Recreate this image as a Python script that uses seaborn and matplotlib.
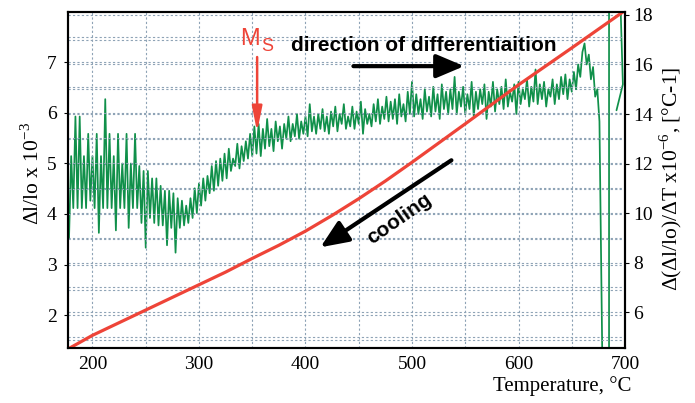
import matplotlib
matplotlib.use("Agg")
import matplotlib.pyplot as plt
from matplotlib.ticker import MultipleLocator
import seaborn as sns

# dilatation curve, left axis (dl/lo x 10^-3)
red_temp = [177, 200, 250, 300, 325, 350, 375, 400, 425, 450, 475, 500, 550, 600, 650, 700]
red_dl = [1.33, 1.60, 2.10, 2.60, 2.85, 3.12, 3.38, 3.66, 3.97, 4.30, 4.65, 5.02, 5.78, 6.55, 7.28, 8.02]

# differentiated curve, right axis (x 10^-6 1/C), sampled every 2 C from 178 to 676
green_temp = list(range(178, 678, 2))
green_val = [
    9.0, 12.3, 10.2, 13.9, 10.2, 13.9, 10.2, 12.3, 10.2, 13.2, 10.5, 12.3,
    10.2, 13.2, 9.2, 12.3, 10.2, 14.6, 10.2, 13.2, 10.2, 12.3,
    9.3, 13.2, 10.2, 12.0, 10.2, 13.2, 9.4, 12.0, 10.2, 13.2,
    10.2, 11.9, 9.6, 11.7, 8.6, 11.7, 9.8, 11.4, 9.6, 11.4,
    9.5, 11.1, 9.5, 10.9, 8.7, 10.9, 9.4, 10.8, 8.4, 10.6,
    9.4, 10.5, 9.5, 10.3, 9.6, 10.6, 9.8, 11.0, 10.0, 11.2,
    10.3, 11.4, 10.5, 11.5, 10.8, 11.9, 10.9, 12.1, 11.1, 12.2,
    11.3, 12.4, 11.4, 12.6, 11.7, 12.2, 11.9, 12.8, 11.8, 12.7,
    12.1, 12.9, 12.2, 13.2, 12.3, 13.5, 12.4, 13.6, 12.3, 13.4,
    12.6, 13.8, 12.7, 13.4, 12.5, 13.7, 12.9, 13.5, 12.6, 13.6,
    13.0, 13.9, 12.9, 13.6, 13.1, 14.0, 13.0, 13.7, 13.2, 13.9,
    13.1, 14.4, 13.3, 13.9, 13.2, 14.0, 13.4, 14.2, 13.3, 13.9,
    13.2, 14.1, 13.5, 14.3, 13.3, 14.0, 13.6, 14.4, 13.4, 13.9,
    13.5, 14.3, 13.4, 14.1, 13.6, 14.5, 13.2, 14.2, 13.6, 14.0,
    13.5, 14.4, 13.7, 14.6, 13.6, 14.3, 13.8, 14.7, 13.7, 14.5,
    13.8, 14.6, 13.6, 14.8, 13.9, 14.4, 13.7, 14.9, 14.0, 15.3,
    13.9, 14.8, 14.0, 14.6, 13.8, 15.0, 14.1, 14.7, 13.9, 15.1,
    14.1, 14.8, 13.8, 15.2, 14.2, 14.9, 14.0, 15.0, 14.2, 15.5,
    14.0, 14.9, 14.3, 15.1, 14.0, 14.8, 14.2, 15.3, 13.9, 14.9,
    14.2, 15.0, 14.4, 15.2, 13.8, 14.9, 14.3, 15.3, 14.1, 15.0,
    14.4, 15.1, 14.2, 15.4, 14.3, 14.9, 14.5, 15.2, 14.0, 15.3,
    14.4, 15.0, 14.6, 15.4, 14.3, 15.1, 14.5, 15.8, 14.4, 15.2,
    14.6, 15.3, 14.3, 15.0, 14.7, 15.4, 14.4, 15.2, 14.6, 15.5,
    14.8, 15.6, 14.6, 15.4, 14.9, 15.7, 15.0, 16.0, 15.5, 16.5,
    16.85, 16.0, 16.4, 15.4, 15.9, 14.7, 15.0, 13.7,
]
# end of run near 700 C (goes off scale, then back)
tail_temp = [679, 685, 685, 695, 698, 692]
tail_val = [3.0, 3.0, 19.5, 19.5, 15.2, 14.15]

red = "#ee4438"
green = "#10904a"
grid_col = "#8ea3b6"

sns.set_style("white")
plt.rcParams["font.family"] = ["Liberation Serif", "DejaVu Serif"]
plt.rcParams["mathtext.fontset"] = "custom"
plt.rcParams["mathtext.rm"] = "Liberation Serif"
for k in ("text.color", "axes.labelcolor", "xtick.color", "ytick.color"):
    plt.rcParams[k] = "black"

fig = plt.figure(figsize=(6.95, 4.03), dpi=100)
ax = fig.add_axes([0.0978, 0.1365, 0.8015, 0.8337])
ax2 = ax.twinx()
ax.set_zorder(ax2.get_zorder() + 1)
ax.patch.set_visible(False)

sns.lineplot(x=green_temp + tail_temp, y=green_val + tail_val, sort=False,
             estimator=None, color=green, lw=1.25, ax=ax2)
sns.lineplot(x=red_temp, y=red_dl, color=red, lw=2.3, ax=ax)

ax.set_xlim(177, 700)
ax.set_ylim(1.35, 7.99)
ax2.set_ylim(4.55, 18.12)

ax.xaxis.set_major_locator(MultipleLocator(100))
ax.xaxis.set_minor_locator(MultipleLocator(50))
ax.yaxis.set_major_locator(MultipleLocator(1))
ax.yaxis.set_minor_locator(MultipleLocator(0.5))
ax.set_yticks([2, 3, 4, 5, 6, 7])
ax2.yaxis.set_major_locator(MultipleLocator(2))
ax2.yaxis.set_minor_locator(MultipleLocator(1))
ax2.set_yticks([6, 8, 10, 12, 14, 16, 18])

gkw = dict(color=grid_col, lw=0.8, ls=(0, (2, 2)))
ax.grid(True, which="both", axis="both", **gkw)
ax2.grid(True, which="both", axis="y", **gkw)

ax.tick_params(axis="both", which="major", labelsize=14, length=3, color="black")
ax.tick_params(axis="y", pad=5)
ax.tick_params(axis="x", pad=3)
ax.tick_params(which="minor", length=0)
ax2.tick_params(axis="y", which="major", labelsize=14, length=3, pad=3, color="black")
ax2.tick_params(which="minor", length=0)

for a in (ax, ax2):
    for s in a.spines.values():
        s.set_color("black")
        s.set_linewidth(1.5)

ax.set_xlabel("Temperature, °C", fontsize=15, loc="right")
ax.xaxis.set_label_coords(1.012, -0.085)
ax.set_ylabel("Δl/lo x 10$^{-3}$", fontsize=15.5)
ax.yaxis.set_label_coords(-0.043, 0.52)
ax2.set_ylabel("Δ(Δl/lo)/ΔT x10$^{-6}$, [°C-1]", fontsize=15.5)
ax2.yaxis.set_label_coords(1.058, 0.503)

# annotations
sans = "Liberation Sans"
ax.text(348, 7.45, "M", color=red, fontsize=17, family=sans, ha="center", va="center")
ax.text(364, 7.31, "S", color=red, fontsize=13, family=sans, ha="center", va="center")
ax.annotate("", xy=(354.6, 5.62), xytext=(354.6, 7.1),
            arrowprops=dict(arrowstyle="-|>,head_length=1.0,head_width=0.2",
                            color=red, lw=1.8, mutation_scale=15, shrinkA=0, shrinkB=0))
ax.text(386, 7.32, "direction of differentiaition", fontsize=15, fontweight="bold",
        family=sans, ha="left", va="center")
ax.annotate("", xy=(549, 6.92), xytext=(445, 6.92),
            arrowprops=dict(arrowstyle="-|>,head_length=0.85,head_width=0.36",
                            color="black", lw=3, mutation_scale=20, shrinkA=0, shrinkB=0))
ax.text(488, 3.9, "cooling", fontsize=15, fontweight="bold", family=sans,
        ha="center", va="center", rotation=35)
ax.annotate("", xy=(414, 3.34), xytext=(537, 5.06),
            arrowprops=dict(arrowstyle="-|>,head_length=0.85,head_width=0.36",
                            color="black", lw=3, mutation_scale=20, shrinkA=0, shrinkB=0))

fig.savefig("out.png", dpi=100)
